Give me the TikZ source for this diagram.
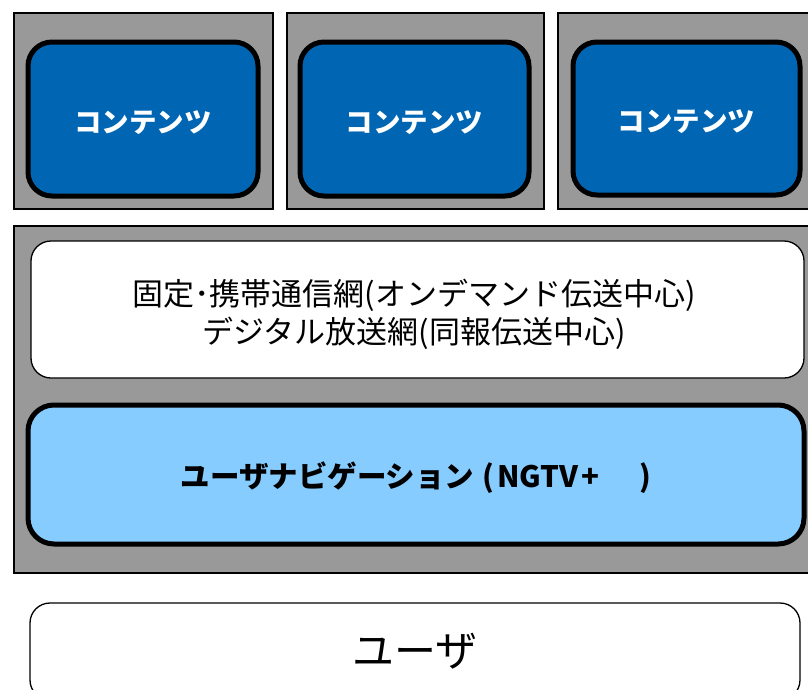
\documentclass[tikz,border=0pt]{standalone}
\usepackage{fontspec}
\setmainfont{Noto Sans CJK JP}
\definecolor{panelgray}{RGB}{153,153,153}
\definecolor{darkblue}{RGB}{0,102,179}
\definecolor{lightblue}{RGB}{135,204,255}
\begin{document}
\begin{tikzpicture}[x=1pt,y=-1pt,
  panel/.style={draw=black, fill=panelgray, line width=1.2pt, minimum width=#1, inner sep=0pt, outer sep=0pt},
  contentbox/.style={draw=black, fill=darkblue, line width=5pt, rounded corners=24pt, inner sep=0pt, text=white, text height=30pt, text depth=3.3pt, font=\fontsize{27.5}{32}\selectfont\bfseries},
  netbox/.style={draw=black, fill=white, line width=1.3pt, rounded corners=20pt, inner sep=0pt},
  navbox/.style={draw=black, fill=lightblue, line width=5pt, rounded corners=26pt, inner sep=0pt, text height=28pt, text depth=3pt, font=\fontsize{29.5}{34}\selectfont\bfseries},
  userbox/.style={draw=black, fill=white, line width=1.3pt, rounded corners=20pt, inner sep=0pt, font=\fontsize{42}{48}\selectfont}]
\useasboundingbox (0,0) rectangle (808,689);
\clip (0,0) rectangle (808,689);
% gray panels
\node[panel=259pt, minimum height=196pt] (g1) at (143.5,111) {};
\node[panel=257pt, minimum height=196pt] (g2) at (415.5,111) {};
\node[panel=262pt, minimum height=196pt] (g3) at (689,111) {};
\node[panel=806pt, minimum height=347pt] (g4) at (417,399.5) {};
% contents
\node[contentbox, minimum width=230pt, minimum height=154pt] (c1) at (143,119) {コンテンツ};
\node[contentbox, minimum width=229pt, minimum height=154pt] (c2) at (414.5,119) {コンテンツ};
\node[contentbox, minimum width=227pt, minimum height=153pt] (c3) at (686.5,118.5) {コンテンツ};
% network
\node[netbox, minimum width=773pt, minimum height=137pt] (net) at (417.5,309.5) {};
\node[font=\fontsize{31}{38}\selectfont, align=center, inner sep=0pt] (nettext) at (414,314)
  {固定･携帯通信網(オンデマンド伝送中心)\\デジタル放送網(同報伝送中心)};
% navigation
\node[navbox, minimum width=776pt, minimum height=139pt] (nav) at (416,474.5)
  {ユーザナビゲーション\hspace{8pt}(\hspace{3pt}NGTV\hspace{3pt}+\hspace{40pt})};
% user
\node[userbox, minimum width=770pt, minimum height=97pt] (user) at (415,651.5) {ユーザ};
\end{tikzpicture}
\end{document}
